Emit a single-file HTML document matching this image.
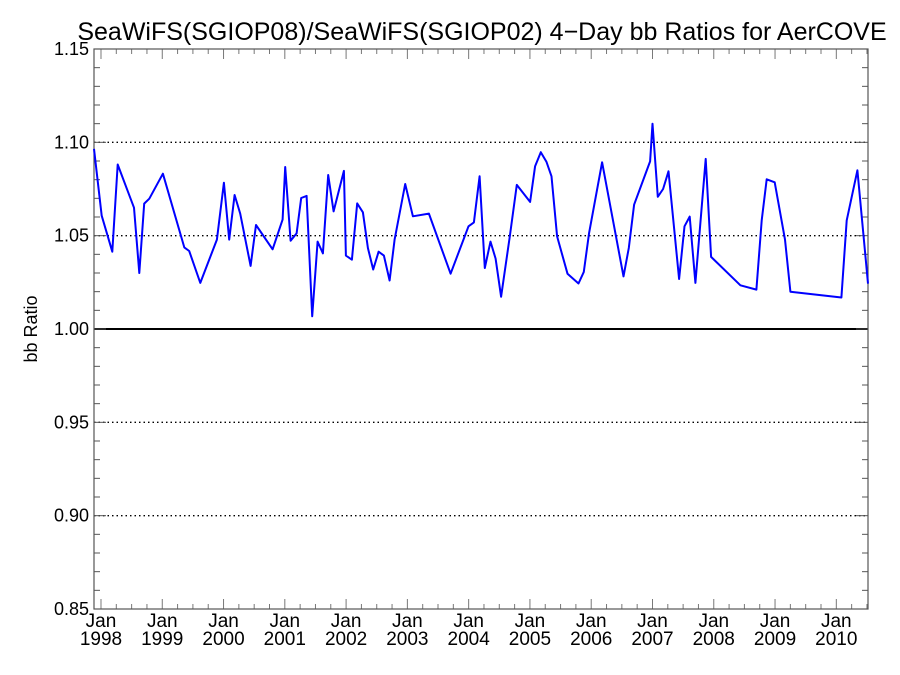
<!DOCTYPE html>
<html><head><meta charset="utf-8"><style>
html,body{margin:0;padding:0;background:#fff;}
svg{display:block;font-family:"Liberation Sans",Arial,sans-serif;}
</style></head><body>
<svg id="chart" width="900" height="675" viewBox="0 0 900 675">
<text x="482" y="40" font-size="25" text-anchor="middle">SeaWiFS(SGIOP08)/SeaWiFS(SGIOP02) 4−Day bb Ratios for AerCOVE</text>
<text transform="translate(37,329) rotate(-90)" font-size="18" text-anchor="middle">bb Ratio</text>
<g id="grid"></g>
<g id="axes"></g>
<g id="series"></g>
</svg>
<script>
const years = [1997.886,1998.011,1998.184,1998.272,1998.538,1998.625,1998.706,1998.788,1999.011,1999.359,1999.440,1999.620,1999.892,2000.006,2000.093,2000.181,2000.272,2000.442,2000.529,2000.801,2000.964,2001.007,2001.095,2001.193,2001.268,2001.356,2001.447,2001.535,2001.621,2001.708,2001.796,2001.964,2001.997,2002.094,2002.181,2002.274,2002.356,2002.442,2002.530,2002.617,2002.710,2002.791,2002.964,2003.090,2003.351,2003.705,2003.998,2004.085,2004.178,2004.264,2004.357,2004.439,2004.530,2004.672,2004.786,2005.003,2005.085,2005.178,2005.271,2005.352,2005.444,2005.613,2005.793,2005.879,2005.966,2006.178,2006.527,2006.613,2006.700,2006.961,2007.000,2007.086,2007.173,2007.261,2007.434,2007.522,2007.608,2007.701,2007.869,2007.956,2008.435,2008.696,2008.783,2008.864,2008.995,2009.163,2009.251,2010.083,2010.170,2010.344,2010.517];
const ratios = [1.0965,1.0607,1.0414,1.0881,1.0650,1.0300,1.0672,1.0698,1.0832,1.0437,1.0418,1.0247,1.0479,1.0784,1.0479,1.0718,1.0618,1.0338,1.0557,1.0427,1.0586,1.0868,1.0473,1.0512,1.0702,1.0713,1.0068,1.0468,1.0405,1.0825,1.0630,1.0847,1.0393,1.0371,1.0673,1.0625,1.0434,1.0319,1.0414,1.0393,1.0260,1.0479,1.0777,1.0604,1.0618,1.0296,1.0550,1.0571,1.0818,1.0327,1.0468,1.0377,1.0173,1.0496,1.0772,1.0681,1.0872,1.0947,1.0895,1.0818,1.0496,1.0296,1.0244,1.0306,1.0515,1.0893,1.0282,1.0434,1.0666,1.0898,1.1100,1.0708,1.0750,1.0845,1.0268,1.0550,1.0602,1.0247,1.0911,1.0386,1.0234,1.0211,1.0582,1.0802,1.0786,1.0479,1.0200,1.0169,1.0582,1.0850,1.0243];
const yTicks = [0.85,0.90,0.95,1.00,1.05,1.10,1.15];
const yTickLabels = ["0.85","0.90","0.95","1.00","1.05","1.10","1.15"];
const xTickYears = [1998,1999,2000,2001,2002,2003,2004,2005,2006,2007,2008,2009,2010];

const NS="http://www.w3.org/2000/svg";
const L=94,R=868,T=49,B=609;
const xMin=1997.886,xMax=2010.517,yMin=0.85,yMax=1.15;
const xs=v=>L+(v-xMin)/(xMax-xMin)*(R-L);
const ys=v=>B-(v-yMin)/(yMax-yMin)*(B-T);
function mk(tag,attrs,parent){const e=document.createElementNS(NS,tag);for(const k in attrs)e.setAttribute(k,attrs[k]);parent.appendChild(e);return e;}
const grid=document.getElementById('grid'),axes=document.getElementById('axes'),series=document.getElementById('series');

yTicks.forEach((v,i)=>{
  const y=ys(v);
  if(v>yMin&&v<yMax){
    const g=mk('line',{x1:L,x2:R,y1:y,y2:y,stroke:'#000','stroke-width':v===1?2:1.3,'stroke-dasharray':v===1?'':'1.5,3'},grid);
    
    
  }
  const t=mk('text',{x:L-5,y:y+6,'font-size':18,'text-anchor':'end'},axes);
  t.textContent=yTickLabels[i];
  
  
});
for(let v=0.85;v<=1.1501;v+=0.01){
  const y=ys(v);const major=Math.abs(Math.round(v*100)%5)<0.01;
  const len=major?12:6;
  const a=mk('line',{x1:L,x2:L+len,y1:y,y2:y,stroke:'#555','stroke-width':1},axes);
  
  
  const b=mk('line',{x1:R,x2:R-len,y1:y,y2:y,stroke:'#555','stroke-width':1},axes);
  
  
}
for(let yr=1998;yr<=2010.5;yr+=0.25){
  const x=xs(yr);const major=Math.abs(yr-Math.round(yr))<0.001;
  const len=major?10:5;
  const a=mk('line',{x1:x,x2:x,y1:B,y2:B-len,stroke:'#777','stroke-width':1},axes);
  
  
  const b=mk('line',{x1:x,x2:x,y1:T,y2:T+len,stroke:'#777','stroke-width':1},axes);
  
  
}
xTickYears.forEach(yr=>{
  const x=xs(yr);
  const t1=mk('text',{x:x,y:627,'font-size':19,'text-anchor':'middle'},axes);
  t1.textContent='Jan';
  
  
  const t2=mk('text',{x:x,y:645,'font-size':19,'text-anchor':'middle'},axes);
  t2.textContent=String(yr);
  
  
});
const frame=mk('rect',{x:L,y:T,width:R-L,height:B-T,fill:'none',stroke:'#555','stroke-width':1.2},axes);



const pts=years.map((y,i)=>xs(y).toFixed(1)+','+ys(ratios[i]).toFixed(1)).join(' ');
const line=mk('polyline',{points:pts,fill:'none',stroke:'#0000ff','stroke-width':2,'stroke-linejoin':'round'},series);


</script>
</body></html>
